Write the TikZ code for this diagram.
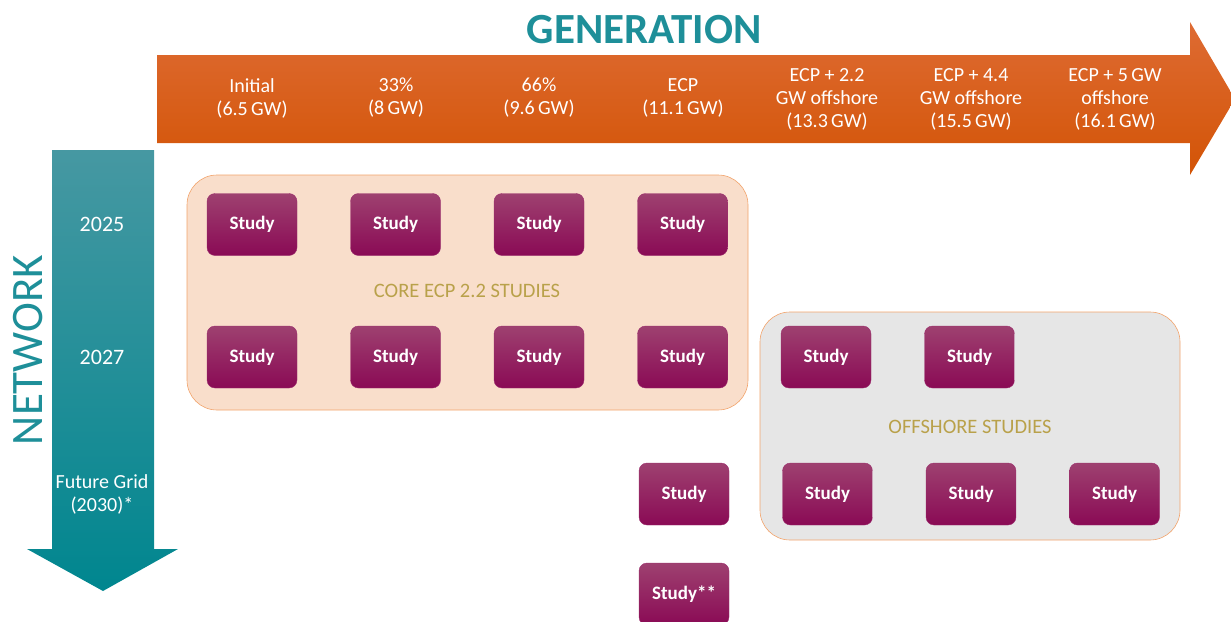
\documentclass[tikz,border=0pt]{standalone}
\usepackage{fontspec}
\setmainfont{Carlito}
\usepackage{tikz}
\usetikzlibrary{positioning}
\definecolor{gentop}{HTML}{DE6B33}
\definecolor{genbot}{HTML}{D35406}
\definecolor{nettop}{HTML}{4698A2}
\definecolor{netbot}{HTML}{00868F}
\definecolor{studytop}{HTML}{9E4170}
\definecolor{studybot}{HTML}{8A0A55}
\definecolor{corefill}{HTML}{F9DECB}
\definecolor{groupline}{HTML}{F2A36B}
\definecolor{offfill}{HTML}{E6E6E6}
\definecolor{labelgold}{HTML}{B9A14A}
\definecolor{titleteal}{HTML}{1E8F99}
\tikzstyle{studybox}=[rectangle,rounded corners=8pt,minimum width=90pt,minimum height=62pt,
  outer sep=0pt,top color=studytop,bottom color=studybot,draw=studybot!85!white,
  text=white,font=\fontsize{19}{22}\selectfont\bfseries]
\tikzstyle{genlabel}=[text=white,align=center,font=\fontsize{20}{23}\selectfont]
\tikzstyle{yearlabel}=[text=white,align=center,font=\fontsize{22}{23}\selectfont]
\tikzstyle{grouplabel}=[text=labelgold,font=\fontsize{20.5}{22}\selectfont]
\tikzstyle{groupbox}=[draw=groupline,semithick,rounded corners=30pt]

\begin{document}
\begin{tikzpicture}[x=1pt,y=-1pt,node distance=53.5pt]
        \useasboundingbox (0,0) rectangle (1231,621);

        % arrows
        \shade[top color=gentop,bottom color=genbot]
            (157,55) -- (1190,55) -- (1190,22) -- (1235,99) -- (1190,175)
            -- (1190,143) -- (157,143) -- cycle;
        \shade[top color=nettop,bottom color=netbot]
            (52,150) -- (154,150) -- (154,549) -- (178,549) -- (103,591)
            -- (27,549) -- (52,549) -- cycle;

        \node[text=titleteal,font=\fontsize{43}{43}\selectfont\bfseries] (gen) at (644,30) {GENERATION};
        \node[text=titleteal,font=\fontsize{45}{45}\selectfont,rotate=90] (net) at (28,350) {NETWORK};

        % groups
        \path[groupbox,fill=corefill] (187,175) rectangle (748,410);
        \path[groupbox,fill=offfill] (760,312) rectangle (1180,540);

        \node[genlabel] (g1) at (252,98) {Initial\\(6.5\,GW)};
        \node[genlabel] (g2) at (396,98) {33\%\\(8\,GW)};
        \node[genlabel] (g3) at (539,98) {66\%\\(9.6\,GW)};
        \node[genlabel] (g4) at (683,98) {ECP\\(11.1\,GW)};
        \node[genlabel] (g5) at (827,99) {ECP + 2.2\\GW offshore\\(13.3\,GW)};
        \node[genlabel] (g6) at (971,99) {ECP + 4.4\\GW offshore\\(15.5\,GW)};
        \node[genlabel] (g7) at (1115,99) {ECP + 5\,GW\\offshore\\(16.1\,GW)};

        \node[yearlabel] (n1) at (102,224) {2025};
        \node[yearlabel] (n2) at (102,357) {2027};
        \node[genlabel] (n3) at (102,494) {Future Grid\\(2030)*};

        \node[studybox] (s1) at (252,224.5) {Study};
        \node[studybox, right =of s1] (s2) {Study};
        \node[studybox, right =of s2] (s3) {Study};
        \node[studybox, right =of s3] (s4) {Study};

        \node[studybox] (s5) at (252,357) {Study};
        \node[studybox, right =of s5] (s6) {Study};
        \node[studybox, right =of s6] (s7) {Study};
        \node[studybox, right =of s7] (s8) {Study};
        \node[studybox, right =of s8] (s9) {Study};
        \node[studybox, right =of s9] (s10) {Study};

        \node[studybox] (s11) at (684,494) {Study};
        \node[studybox, right =of s11] (s12) {Study};
        \node[studybox, right =of s12] (s13) {Study};
        \node[studybox, right =of s13] (s14) {Study};
        \node[studybox, below =38pt of s11] (s15) {Study**};

        \node[grouplabel] (core) at (467,291) {CORE ECP 2.2 STUDIES};
        \node[grouplabel] (off) at (970,427) {OFFSHORE STUDIES};
    \end{tikzpicture}
\end{document}
